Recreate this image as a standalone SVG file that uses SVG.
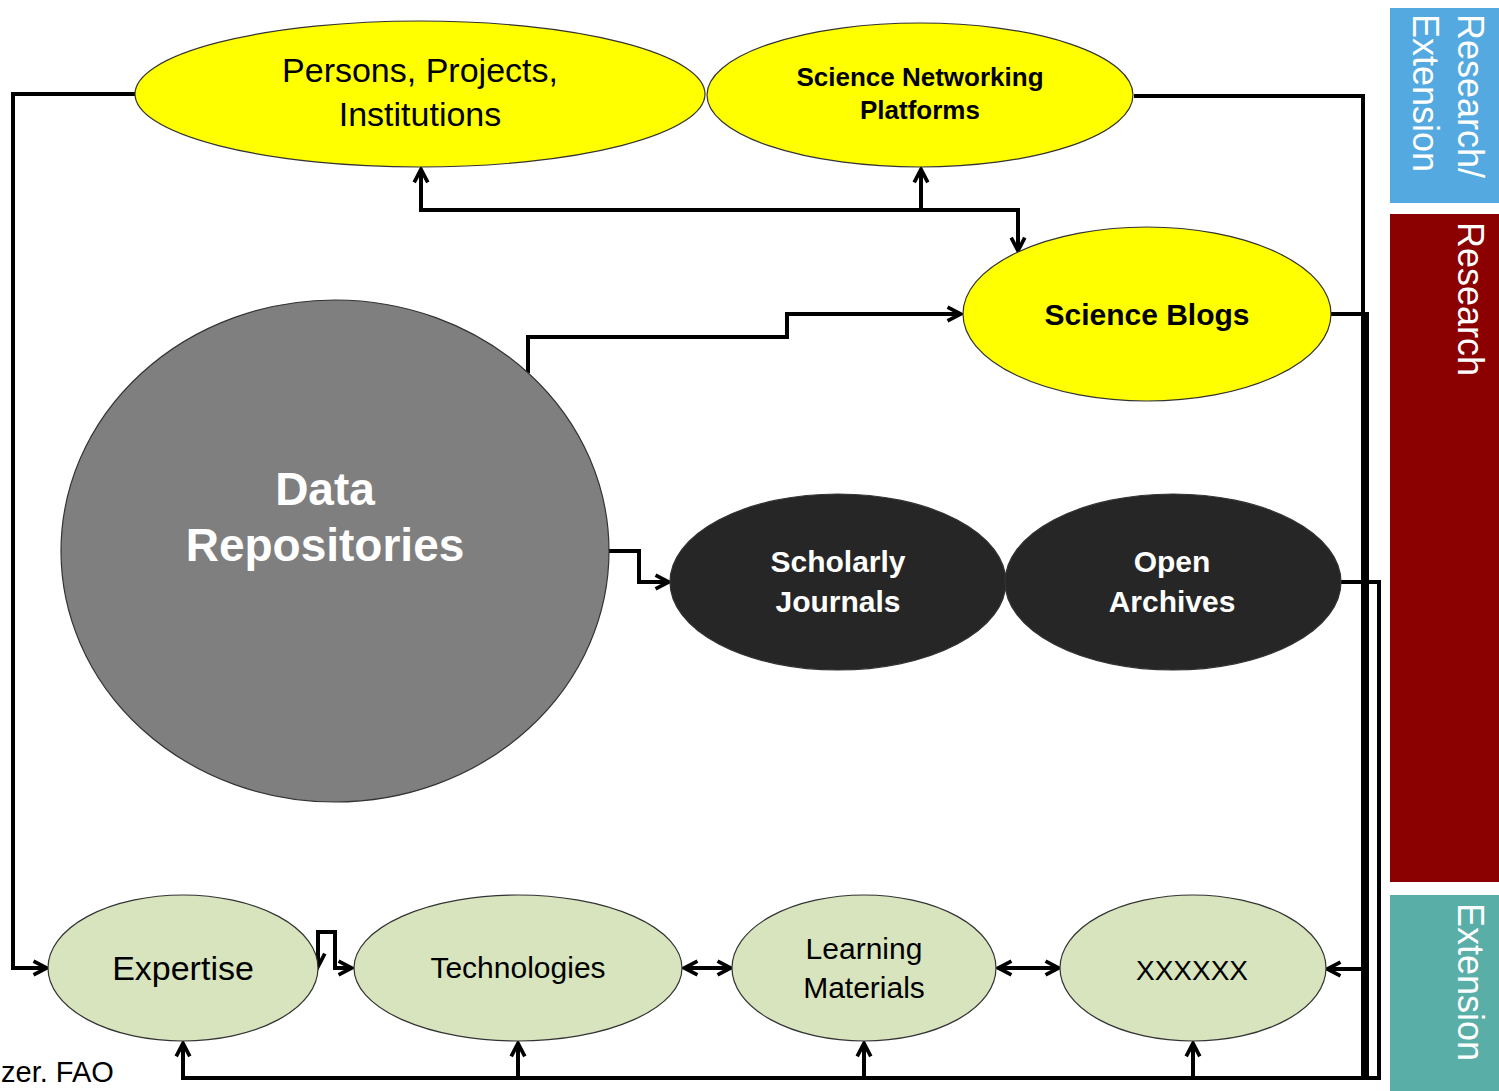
<svg xmlns="http://www.w3.org/2000/svg" width="1499" height="1091" viewBox="0 0 1499 1091">
<style>
.e{stroke:#333;stroke-width:1.2}
.y{fill:#ffff00}
.g{fill:#d7e4bd}
.k{fill:#262626}
.c{fill:none;stroke:#000;stroke-width:4}
text{font-family:"Liberation Sans",Arial,sans-serif;text-anchor:middle}
.b{font-weight:bold}
.w{fill:#fff}
.side{font-size:36px;fill:#fff;text-anchor:start}
</style>
<defs>
<marker id="a" viewBox="0 0 12 12" refX="11" refY="6" markerWidth="17" markerHeight="17" markerUnits="userSpaceOnUse" orient="auto-start-reverse" style="overflow:visible">
<path d="M1.5,1.2 L10.8,6 L1.5,10.8" fill="none" stroke="#000" stroke-width="2.6" stroke-linejoin="miter"/>
</marker>
</defs>
<rect width="1499" height="1091" fill="#fff"/>

<g id="bars">
<rect x="1390" y="8" width="109" height="195" fill="#53a9e0"/>
<rect x="1390" y="214" width="109" height="668" fill="#8b0000"/>
<rect x="1390" y="895" width="109" height="196" fill="#5aaea8"/>
<text class="side" transform="translate(1458,14) rotate(90)">Research/</text>
<text class="side" transform="translate(1413,14) rotate(90)">Extension</text>
<text class="side" transform="translate(1458,222) rotate(90)">Research</text>
<text class="side" transform="translate(1458,903) rotate(90)">Extension</text>
</g>

<g id="connectors">
<path class="c" d="M135,94 H13 V968 H47" marker-end="url(#a)"/>
<path class="c" d="M421,169 V210 H1018 V251" marker-start="url(#a)" marker-end="url(#a)"/>
<path class="c" d="M921,169 V210" marker-start="url(#a)"/>
<path class="c" d="M528,373 V337 H787 V314 H961" marker-end="url(#a)"/>
<path class="c" d="M609,551 H639 V582 H669" marker-end="url(#a)"/>
<path class="c" d="M318,967 V932 H335 V968 H352" marker-start="url(#a)" marker-end="url(#a)"/>
<path class="c" d="M684,968 H731" marker-start="url(#a)" marker-end="url(#a)"/>
<path class="c" d="M998,968 H1059" marker-start="url(#a)" marker-end="url(#a)"/>
<path class="c" d="M1134,96 H1363 V1078"/>
<path class="c" d="M1331,314 H1367 V1078"/>
<path class="c" d="M1341,582 H1379 V1078 H183 V1043" marker-end="url(#a)"/>
<path class="c" d="M1367,969 H1327" marker-end="url(#a)"/>
<path class="c" d="M518,1078 V1043" marker-end="url(#a)"/>
<path class="c" d="M864,1078 V1043" marker-end="url(#a)"/>
<path class="c" d="M1193,1078 V1043" marker-end="url(#a)"/>
</g>

<g id="persons">
<ellipse class="e y" cx="420" cy="94" rx="285" ry="73"/>
<text x="420" y="82" font-size="34">Persons, Projects,</text>
<text x="420" y="126" font-size="34">Institutions</text>
</g>
<g id="networking">
<ellipse class="e y" cx="920" cy="95" rx="213" ry="72"/>
<text class="b" x="920" y="86" font-size="26">Science Networking</text>
<text class="b" x="920" y="119" font-size="26">Platforms</text>
</g>
<g id="blogs">
<ellipse class="e y" cx="1147" cy="314" rx="184" ry="87"/>
<text class="b" x="1147" y="325" font-size="30">Science Blogs</text>
</g>
<g id="data">
<ellipse class="e" fill="#7f7f7f" cx="335" cy="551" rx="274" ry="251"/>
<text class="b w" x="325" y="505" font-size="46">Data</text>
<text class="b w" x="325" y="561" font-size="46">Repositories</text>
</g>
<g id="journals">
<ellipse class="e k" cx="838" cy="582" rx="168" ry="88"/>
<text class="b w" x="838" y="572" font-size="30">Scholarly</text>
<text class="b w" x="838" y="612" font-size="30">Journals</text>
</g>
<g id="archives">
<ellipse class="e k" cx="1173" cy="582" rx="168" ry="88"/>
<text class="b w" x="1172" y="572" font-size="30">Open</text>
<text class="b w" x="1172" y="612" font-size="30">Archives</text>
</g>
<g id="expertise">
<ellipse class="e g" cx="183" cy="968" rx="135" ry="73"/>
<text x="183" y="980" font-size="34">Expertise</text>
</g>
<g id="technologies">
<ellipse class="e g" cx="518" cy="968" rx="164" ry="73"/>
<text x="518" y="978" font-size="30">Technologies</text>
</g>
<g id="learning">
<ellipse class="e g" cx="864" cy="968" rx="132" ry="73"/>
<text x="864" y="959" font-size="30">Learning</text>
<text x="864" y="998" font-size="30">Materials</text>
</g>
<g id="xxxxxx">
<ellipse class="e g" cx="1193" cy="968" rx="133" ry="73"/>
<text x="1192" y="980" font-size="28">XXXXXX</text>
</g>
<text x="1" y="1082" font-size="29" style="text-anchor:start">zer. FAO</text>
</svg>
